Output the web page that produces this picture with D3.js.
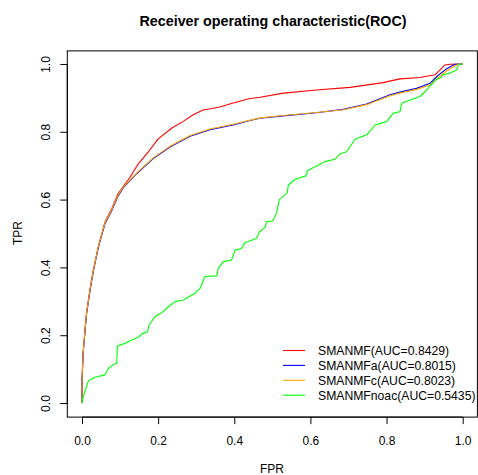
<!DOCTYPE html>
<html>
<head>
    <meta charset="utf-8">
    <title>Receiver operating characteristic(ROC)</title>
    <style type="text/css">
        body { margin: 0; background: #fff; }
        text { font-family: "Liberation Sans", Arial, Helvetica, sans-serif; fill: #000; }
    </style>
</head>
<body>

<script src="https://d3js.org/d3.v7.min.js"></script>
<script type="text/javascript">

// ROC curves (FPR, TPR)
var redFPR = [0, 0, 0.003, 0.008, 0.012, 0.021, 0.030, 0.043, 0.060, 0.078, 0.095, 0.104, 0.126, 0.147, 0.173, 0.200, 0.236, 0.265, 0.292, 0.318, 0.362, 0.397, 0.441, 0.468, 0.529, 0.616, 0.704, 0.791, 0.835, 0.888, 0.927, 0.940, 0.953, 0.967, 1.0];
var redTPR = [0, 0.068, 0.150, 0.218, 0.268, 0.336, 0.395, 0.463, 0.533, 0.573, 0.618, 0.632, 0.666, 0.704, 0.739, 0.779, 0.811, 0.830, 0.850, 0.864, 0.873, 0.885, 0.898, 0.902, 0.914, 0.923, 0.931, 0.945, 0.956, 0.960, 0.968, 0.982, 0.997, 0.999, 1.0];

var blueFPR = [0, 0, 0.003, 0.008, 0.012, 0.021, 0.030, 0.043, 0.060, 0.078, 0.095, 0.109, 0.144, 0.187, 0.231, 0.284, 0.336, 0.397, 0.441, 0.468, 0.529, 0.616, 0.686, 0.748, 0.809, 0.835, 0.879, 0.914, 0.932, 0.953, 0.967, 0.980, 1.0];
var blueTPR = [0, 0.066, 0.146, 0.213, 0.263, 0.331, 0.390, 0.459, 0.528, 0.567, 0.611, 0.636, 0.677, 0.721, 0.755, 0.787, 0.806, 0.820, 0.833, 0.840, 0.847, 0.856, 0.866, 0.882, 0.909, 0.917, 0.928, 0.943, 0.963, 0.982, 0.992, 0.999, 1.0];

var orangeFPR = [0, 0, 0.003, 0.008, 0.012, 0.021, 0.030, 0.043, 0.060, 0.078, 0.095, 0.109, 0.144, 0.187, 0.231, 0.284, 0.336, 0.397, 0.441, 0.468, 0.529, 0.616, 0.686, 0.748, 0.809, 0.835, 0.879, 0.914, 0.934, 0.955, 0.975, 0.989, 1.0];
var orangeTPR = [0, 0.068, 0.149, 0.216, 0.266, 0.334, 0.393, 0.462, 0.531, 0.570, 0.614, 0.638, 0.679, 0.723, 0.757, 0.789, 0.808, 0.822, 0.834, 0.841, 0.848, 0.857, 0.865, 0.880, 0.906, 0.914, 0.925, 0.938, 0.958, 0.977, 0.992, 0.999, 1.0];

var greenFPR = [0, 0.003, 0.010, 0.017, 0.034, 0.060, 0.069, 0.080, 0.091, 0.093, 0.113, 0.130, 0.148, 0.157, 0.172, 0.176, 0.192, 0.209, 0.227, 0.244, 0.266, 0.297, 0.310, 0.323, 0.354, 0.358, 0.371, 0.393, 0.402, 0.419, 0.428, 0.459, 0.466, 0.481, 0.485, 0.501, 0.511, 0.518, 0.529, 0.539, 0.542, 0.560, 0.588, 0.592, 0.621, 0.638, 0.665, 0.678, 0.695, 0.704, 0.717, 0.748, 0.770, 0.800, 0.818, 0.835, 0.840, 0.862, 0.888, 0.901, 0.914, 0.932, 0.940, 0.949, 0.967, 0.984, 0.989, 1.0];
var greenTPR = [0, 0.019, 0.043, 0.066, 0.076, 0.083, 0.102, 0.112, 0.117, 0.168, 0.176, 0.186, 0.194, 0.204, 0.210, 0.230, 0.255, 0.266, 0.284, 0.299, 0.304, 0.324, 0.338, 0.373, 0.375, 0.397, 0.417, 0.422, 0.451, 0.456, 0.473, 0.486, 0.505, 0.518, 0.535, 0.537, 0.560, 0.599, 0.611, 0.619, 0.643, 0.660, 0.670, 0.685, 0.702, 0.712, 0.719, 0.735, 0.741, 0.756, 0.778, 0.791, 0.820, 0.830, 0.855, 0.859, 0.884, 0.894, 0.904, 0.918, 0.935, 0.955, 0.958, 0.968, 0.973, 0.982, 0.999, 1.0];

var seriesNames  = ["SMANMF(AUC=0.8429)", "SMANMFa(AUC=0.8015)", "SMANMFc(AUC=0.8023)", "SMANMFnoac(AUC=0.5435)"];
var seriesColors = ["#ff0000", "#0000ff", "#ffa500", "#00ff00"];
var tickValues   = [0, 0.2, 0.4, 0.6, 0.8, 1.0];

var series = [
    d3.zip(redFPR, redTPR),
    d3.zip(blueFPR, blueTPR),
    d3.zip(orangeFPR, orangeTPR),
    d3.zip(greenFPR, greenTPR)
];

var width = 478, height = 475;

var svg = d3.select("body")
    .append("svg")
    .attr("width", width)
    .attr("height", height);

// R style: 4% padding around [0,1]
var x = d3.scaleLinear().domain([-0.04, 1.04]).range([66.8, 477.9]);
var y = d3.scaleLinear().domain([-0.04, 1.04]).range([416.6, 50.4]);

//plot box
svg.append("rect")
    .attr("x", x(-0.04) + 0.5)
    .attr("y", y(1.04) + 0.5)
    .attr("width", x(1.04) - x(-0.04) - 1)
    .attr("height", y(-0.04) - y(1.04))
    .attr("fill", "none")
    .attr("stroke", "#000")
    .attr("stroke-width", 1);

var fmt = d3.format(".1f");

//x axis
var xAxis = svg.append("g")
    .attr("transform", "translate(0," + (y(-0.04) + 0.5) + ")")
    .call(d3.axisBottom(x).tickValues(tickValues).tickFormat(fmt).tickSize(7).tickSizeOuter(0).tickPadding(12));
xAxis.select(".domain").attr("d", "M" + x(0) + ",0H" + x(1));
xAxis.selectAll("text").style("font-size", "12px").attr("fill", "#000");

//y axis, labels turned like R does
var yAxis = svg.append("g")
    .attr("transform", "translate(" + (x(-0.04) + 0.5) + ",0)")
    .call(d3.axisLeft(y).tickValues(tickValues).tickFormat(fmt).tickSize(7).tickSizeOuter(0));
yAxis.select(".domain").attr("d", "M0," + y(0) + "V" + y(1));
yAxis.selectAll("text")
    .style("font-size", "12px")
    .attr("fill", "#000")
    .attr("text-anchor", "middle")
    .attr("x", null).attr("dy", null)
    .attr("transform", "translate(-17,0) rotate(-90)");

//curves
var line = d3.line()
    .x(function(d){ return x(d[0]); })
    .y(function(d){ return y(d[1]); });

svg.selectAll(".roc")
    .data(series)
    .enter()
    .append("path")
    .attr("class", "roc")
    .attr("d", line)
    .attr("fill", "none")
    .attr("stroke", function(d, i){ return seriesColors[i]; })
    .attr("stroke-width", 1.1)
    .attr("stroke-linejoin", "round");

//title and axis labels
svg.append("text")
    .attr("x", 273).attr("y", 26)
    .attr("text-anchor", "middle")
    .style("font-size", "14.3px")
    .style("font-weight", "bold")
    .text("Receiver operating characteristic(ROC)");

svg.append("text")
    .attr("x", 272).attr("y", 473)
    .attr("text-anchor", "middle")
    .style("font-size", "12px")
    .text("FPR");

svg.append("text")
    .attr("transform", "translate(22,233) rotate(-90)")
    .attr("text-anchor", "middle")
    .style("font-size", "12px")
    .text("TPR");

//legend, no box
var legend = svg.selectAll(".legend")
    .data(seriesNames)
    .enter()
    .append("g")
    .attr("class", "legend")
    .attr("transform", function(d, i){ return "translate(0," + (350.5 + i * 14.9) + ")"; });

legend.append("line")
    .attr("x1", 283).attr("x2", 305)
    .attr("stroke", function(d, i){ return seriesColors[i]; })
    .attr("stroke-width", 1.1);

legend.append("text")
    .attr("x", 318).attr("y", 4.3)
    .style("font-size", "12.2px")
    .text(function(d){ return d; });

</script>
</body>
</html>
